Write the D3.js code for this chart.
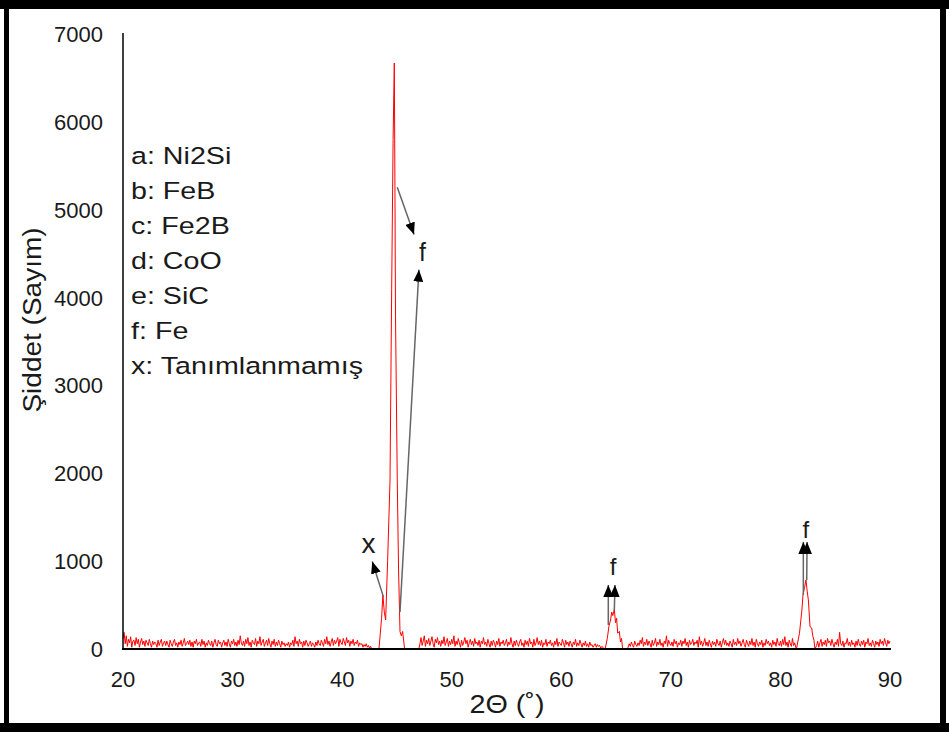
<!DOCTYPE html>
<html lang="tr">
<head>
    <meta charset="UTF-8">
    <title>XRD - Şiddet</title>
    <script src="https://d3js.org/d3.v7.min.js"></script>
    <style>
        body { margin: 0; background: #fff; }
        text { font-family: "Liberation Sans", Arial, sans-serif; fill: #1a1a1a; }
    </style>
</head>
<body>
<div id="chart"></div>
<script>
    // scan step 0.1 deg, noise segments
    const step = 0.1;
    const noiseA = { start: 20.0, counts: [
        120,190,60,150,30,110,70,140,20,90,
        100,40,130,60,110,20,80,120,50,90,
        30,100,70,40,110,60,20,90,50,80,
        60,20,100,40,80,110,30,70,90,40,
        90,50,20,100,60,30,80,110,40,70,
        20,80,50,100,30,70,120,40,60,90,
        50,100,30,80,20,90,60,110,40,70,
        80,30,110,50,90,20,70,40,100,60,
        40,90,20,70,110,50,30,100,60,80,
        20,70,100,40,80,30,110,60,20,90,
        60,110,40,80,30,100,50,150,70,40,
        90,30,110,60,130,40,80,20,100,70,
        50,120,30,90,60,140,40,80,110,30,
        70,100,40,120,60,20,90,50,110,30,
        80,40,100,60,20,90,50,70,30,60,
        40,80,20,70,50,100,30,140,60,90,
        30,110,60,80,20,90,40,100,70,30,
        60,90,30,70,50,20,80,40,100,60,
        40,100,70,30,110,60,140,50,90,30,
        80,120,40,100,60,90,130,30,110,70,
        50,120,80,40,130,70,100,30,90,60,
        110,40,80,60,100,30,70,50,60,20,
        50,30,60,20,40,10,30,0
    ]};
    const peakMain = [
        [42.8,0],[43.36,0],[43.6,350],[43.72,610],[43.85,420],[43.97,330],[44.15,1000],
        [44.37,1925],[44.52,4090],[44.65,5800],[44.76,6670],[44.82,5200],[44.87,3800],
        [45.03,1925],[45.15,900],[45.28,200],[45.4,150],[45.52,200],[45.7,0],[47.0,0]
    ];
    const noiseB = { start: 47.1, counts: [
        60,130,40,90,150,30,100,60,120,
        40,90,140,60,20,110,70,130,50,90,
        30,100,60,140,40,80,120,30,90,50,
        110,60,150,30,90,50,120,70,20,100,
        40,80,130,60,100,20,70,110,50,90,
        30,120,60,80,40,100,20,90,60,130,
        50,80,30,110,60,20,90,40,100,70,
        20,90,50,120,30,80,60,100,40,70,
        110,30,80,50,130,60,20,90,40,100,
        60,30,80,110,40,70,20,100,50,90,
        30,120,60,80,20,110,40,70,130,50,
        90,40,100,20,70,50,110,30,80,60,
        100,40,70,20,90,50,120,30,80,60,
        40,110,70,20,100,50,80,30,90,60,
        20,80,50,110,30,70,40,100,60,20,
        70,40,90,30,60,20,80,40,50,20,
        40,60,20,50,30,40,10,30,20,0
    ]};
    const peak65 = [
        [64.0,0],[64.2,120],[64.35,260],[64.5,330],[64.6,420],[64.7,380],[64.84,450],
        [64.95,300],[65.05,350],[65.15,180],[65.3,200],[65.4,80],[65.5,120],[65.6,0],[66.0,0]
    ];
    const noiseC = { start: 66.1, counts: [
        20,60,30,80,40,20,90,50,30,
        70,40,100,60,130,30,80,50,110,40,
        90,60,20,100,40,70,120,30,80,50,
        110,40,70,20,90,60,150,30,100,60,
        40,80,30,110,60,90,20,70,50,100,
        30,90,60,120,40,80,20,100,50,70,
        110,40,80,60,100,20,140,50,90,30,
        70,120,40,80,30,100,60,20,90,50,
        80,30,110,60,40,90,20,70,120,50,
        100,40,70,30,90,60,20,110,50,80,
        40,120,60,90,30,70,110,50,20,100,
        60,30,90,50,120,40,80,20,110,60,
        30,80,50,100,20,70,40,110,60,90,
        40,70,20,100,50,80,30,120,60,40,
        90,30,110,50,140,40,80,20,100,60,
        30,120,40,70,20
    ]};
    const peak82 = [
        [81.46,0],[81.74,180],[81.96,444],[82.06,615],[82.2,700],[82.33,786],[82.45,650],
        [82.55,558],[82.7,254],[82.85,240],[82.95,150],[83.06,100],[83.15,0]
    ];
    const noiseD = { start: 83.3, counts: [
        40,90,20,70,110,30,80,
        50,100,30,120,70,90,40,110,60,20,
        80,50,110,30,190,60,40,90,20,70,
        60,120,40,80,30,100,50,70,20,90,
        40,110,60,30,90,50,100,20,80,60,
        120,40,70,30,100,60,20,90,50,80,
        30,110,60,90,40,120,70,30,100,60,
        90
    ]};

    const xTicks = [20,30,40,50,60,70,80,90];
    const yTicks = [0,1000,2000,3000,4000,5000,6000,7000];
    const legendLines = ['a: Ni2Si','b: FeB','c: Fe2B','d: CoO','e: SiC','f: Fe','x: Tanımlanmamış'];

    // arrows [from 2θ, from count, to 2θ, to count]
    const arrows = [
        [45.03,5256,46.56,4717],
        [45.28,421,47.01,4318],
        [43.76,596,42.75,995],
        [64.29,273,64.29,729],
        [64.84,444,64.90,729],
        [82.09,615,82.09,1219],
        [82.40,786,82.43,1219]
    ];
    const peakLabels = [
        {t:'f', x:47.33, y:4413, s:25},
        {t:'x', x:42.41, y:1094, s:28},
        {t:'f', x:64.72, y:843, s:24},
        {t:'f', x:82.33, y:1265, s:24}
    ];

    // assemble the scan
    let scan = [];
    const seg = n => n.counts.map((c,i) => [n.start + i*step, c]);
    scan = scan.concat(seg(noiseA), peakMain, seg(noiseB), peak65, seg(noiseC), peak82, seg(noiseD));

    const W = 949, H = 734;
    const svg = d3.select('#chart').append('svg')
        .attr('width', W).attr('height', H);

    svg.append('defs').append('marker')
        .attr('id','head')
        .attr('viewBox','0 0 12 10')
        .attr('refX', 12).attr('refY', 5)
        .attr('markerWidth', 12).attr('markerHeight', 10)
        .attr('markerUnits','userSpaceOnUse')
        .attr('orient','auto')
        .append('path').attr('d','M0,0 L12,5 L0,10 Z').attr('fill','#000');

    const x = d3.scaleLinear().domain([20,90]).range([123,890]);
    const y = d3.scaleLinear().domain([0,7000]).range([649,34]);

    //cadre noir
    svg.append('rect').attr('x',0).attr('y',0).attr('width',W).attr('height',9).attr('fill','#000');
    svg.append('rect').attr('x',4).attr('y',0).attr('width',5).attr('height',732).attr('fill','#000');
    svg.append('rect').attr('x',0).attr('y',723).attr('width',W).attr('height',9).attr('fill','#000');
    svg.append('rect').attr('x',940).attr('y',0).attr('width',6).attr('height',732).attr('fill','#000');

    // courbe
    svg.append('path')
        .datum(scan)
        .attr('fill','none')
        .attr('stroke','#ff0000')
        .attr('stroke-width',1)
        .attr('d', d3.line().x(d => x(d[0])).y(d => y(d[1])));

    // axes
    svg.append('line')
        .attr('x1', x(20)).attr('x2', x(20))
        .attr('y1', y(7000)-1).attr('y2', y(0))
        .attr('stroke','#000').attr('stroke-width',1.5);
    svg.append('line')
        .attr('x1', x(20)-1).attr('x2', x(90)+1)
        .attr('y1', y(0)).attr('y2', y(0))
        .attr('stroke','#000').attr('stroke-width',2);

    svg.selectAll('.ytick')
        .data(yTicks)
        .enter()
        .append('text')
        .attr('class','ytick')
        .attr('x', 103)
        .attr('y', d => y(d) + 8)
        .attr('text-anchor','end')
        .attr('font-size', 22)
        .text(d => d);

    svg.selectAll('.xtick')
        .data(xTicks)
        .enter()
        .append('text')
        .attr('class','xtick')
        .attr('x', d => x(d))
        .attr('y', 687)
        .attr('text-anchor','middle')
        .attr('font-size', 22)
        .text(d => d);

    svg.append('text')
        .attr('transform','translate(507,713) scale(1.15,1)')
        .attr('text-anchor','middle')
        .attr('font-size', 25)
        .text('2Θ (˚)');

    svg.append('text')
        .attr('transform','translate(41,320) rotate(-90) scale(1.12,1)')
        .attr('text-anchor','middle')
        .attr('font-size', 25)
        .text('Şiddet (Sayım)');

    // legende
    svg.selectAll('.leg')
        .data(legendLines)
        .enter()
        .append('text')
        .attr('class','leg')
        .attr('transform', (d,i) => 'translate(131,' + (164 + i*35) + ') scale(1.22,1)')
        .attr('font-size', 23.5)
        .text(d => d);

    // fleches
    svg.selectAll('.arrow')
        .data(arrows)
        .enter()
        .append('line')
        .attr('class','arrow')
        .attr('x1', d => x(d[0])).attr('y1', d => y(d[1]))
        .attr('x2', d => x(d[2])).attr('y2', d => y(d[3]))
        .attr('stroke','#666').attr('stroke-width',1.5)
        .attr('marker-end','url(#head)');

    svg.selectAll('.plab')
        .data(peakLabels)
        .enter()
        .append('text')
        .attr('class','plab')
        .attr('x', d => x(d.x))
        .attr('y', d => y(d.y))
        .attr('text-anchor','middle')
        .attr('font-size', d => d.s)
        .text(d => d.t);
</script>
</body>
</html>
